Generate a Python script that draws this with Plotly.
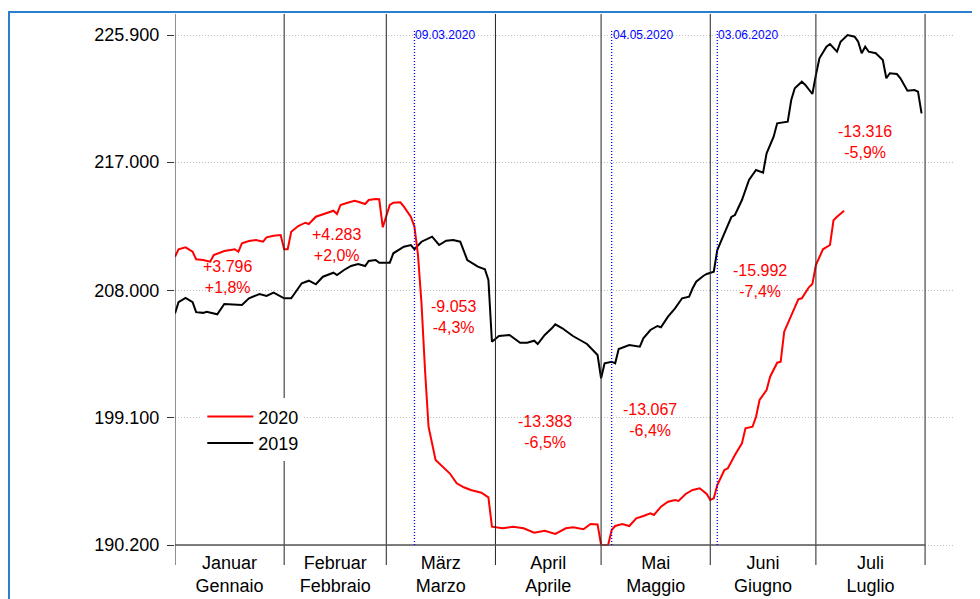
import pandas as pd
import plotly.graph_objects as go

# Month labels (German / Italian) and month boundaries on the 2020 calendar
month_de = ["Januar", "Februar", "März", "April", "Mai", "Juni", "Juli"]
month_it = ["Gennaio", "Febbraio", "Marzo", "Aprile", "Maggio", "Giugno", "Luglio"]
month_starts = ["2020-01-01", "2020-02-01", "2020-03-01", "2020-04-01",
                "2020-05-01", "2020-06-01", "2020-07-01", "2020-08-01"]

# y axis ticks
y_ticks = [190200, 199100, 208000, 217000, 225900]
y_ticktext = ["190.200", "199.100", "208.000", "217.000", "225.900"]

# Series 2019 (month-day, plotted on the same calendar as 2020)
days_2019 = ["01-01", "01-02", "01-04", "01-06", "01-07", "01-09", "01-10", "01-13", "01-15", "01-18",
             "01-20", "01-22", "01-25", "01-27", "01-29", "02-01", "02-03", "02-05", "02-06", "02-08",
             "02-10", "02-12", "02-15", "02-16", "02-18", "02-20", "02-22", "02-24", "02-25", "02-27",
             "02-28", "03-02", "03-03", "03-06", "03-08", "03-09", "03-11", "03-13", "03-14", "03-16",
             "03-18", "03-20", "03-22", "03-24", "03-27", "03-29", "03-30", "03-31", "04-02", "04-05",
             "04-08", "04-10", "04-12", "04-13", "04-15", "04-17", "04-18", "04-20", "04-23", "04-25",
             "04-27", "04-30", "05-01", "05-02", "05-04", "05-05", "05-06", "05-09", "05-12", "05-13",
             "05-15", "05-17", "05-18", "05-20", "05-22", "05-24", "05-26", "05-27", "05-28", "05-30",
             "05-31", "06-02", "06-03", "06-05", "06-07", "06-08", "06-10", "06-12", "06-14", "06-16",
             "06-17", "06-19", "06-20", "06-23", "06-24", "06-25", "06-27", "06-28", "06-30", "07-01",
             "07-02", "07-04", "07-05", "07-07", "07-08", "07-10", "07-12", "07-13", "07-14", "07-15",
             "07-16", "07-18", "07-20", "07-21", "07-22", "07-24", "07-25", "07-27", "07-29", "07-30",
             "07-31"]
values_2019 = [206400, 207200, 207500, 207200, 206500, 206450, 206530, 206350, 207070, 207000,
               207000, 207470, 207770, 207630, 207860, 207470, 207470, 208170, 208520, 208700,
               208450, 208980, 209260, 209100, 209450, 209730, 209870, 209730, 210080, 210150,
               209960, 209960, 210620, 211080, 211200, 210900, 211430, 211670, 211780, 211200,
               211500, 211550, 211430, 210150, 209680, 209500, 208750, 204430, 204830, 204900,
               204360, 204360, 204500, 204270, 204900, 205370, 205650, 205370, 204830, 204550,
               204270, 203500, 201870, 202920, 203030, 202920, 203920, 204200, 204080, 204670,
               205250, 205530, 205440, 206180, 206770, 207470, 207580, 208170, 208630, 209030,
               209170, 209330, 210850, 212020, 213160, 213300, 214350, 215750, 216450, 216260,
               217620, 218780, 219720, 219830, 221350, 222170, 222630, 222400, 221770, 223100,
               224270, 225080, 225270, 224730, 225430, 225900, 225780, 225430, 224620, 225080,
               224730, 224620, 224150, 222870, 223220, 223170, 222870, 222000, 222050, 221930,
               220420]

# Series 2020
days_2020 = ["01-01", "01-02", "01-04", "01-06", "01-07", "01-09", "01-11", "01-12", "01-15", "01-18",
             "01-19", "01-20", "01-22", "01-24", "01-26", "01-27", "01-29", "01-31", "02-01", "02-02",
             "02-03", "02-05", "02-07", "02-08", "02-10", "02-12", "02-14", "02-15", "02-16", "02-17",
             "02-19", "02-21", "02-22", "02-24", "02-25", "02-27", "02-28", "02-29", "03-02", "03-03",
             "03-05", "03-06", "03-08", "03-09", "03-10", "03-11", "03-12", "03-13", "03-15", "03-17",
             "03-19", "03-21", "03-23", "03-25", "03-28", "03-30", "03-31", "04-03", "04-06", "04-09",
             "04-12", "04-15", "04-18", "04-21", "04-23", "04-26", "04-28", "04-30", "05-01", "05-03",
             "05-04", "05-05", "05-07", "05-09", "05-11", "05-13", "05-15", "05-16", "05-18", "05-20",
             "05-22", "05-23", "05-25", "05-27", "05-29", "05-31", "06-01", "06-02", "06-03", "06-05",
             "06-06", "06-08", "06-10", "06-11", "06-13", "06-14", "06-15", "06-17", "06-18", "06-20",
             "06-21", "06-22", "06-24", "06-26", "06-27", "06-29", "06-30", "07-01", "07-03", "07-05",
             "07-06", "07-07", "07-09"]
values_2020 = [210380, 210900, 211040, 210730, 210200, 210150, 210030, 210500, 210780, 210900,
               210730, 211320, 211480, 211550, 211430, 211740, 211850, 211900, 210900, 210900,
               212130, 212530, 212760, 212670, 213180, 213370, 213530, 213600, 213370, 214000,
               214160, 214300, 214230, 214070, 214350, 214420, 214400, 212440, 214000, 214160,
               214190, 213880, 213160, 212480, 210500, 207120, 202450, 198480, 196150, 195680,
               195220, 194520, 194240, 194050, 193860, 193540, 191480, 191370, 191480, 191370,
               191060, 191200, 190970, 191370, 191440, 191300, 191670, 191640, 190200, 190200,
               191250, 191530, 191670, 191530, 192070, 192230, 192420, 192300, 192880, 193230,
               193350, 193280, 193770, 194050, 194170, 193770, 193350, 193470, 194400, 195450,
               195570, 196500, 197320, 198370, 198480, 199180, 200350, 201050, 201980, 202960,
               203030, 205130, 206300, 207400, 207470, 208240, 208470, 209800, 210900, 211200,
               212930, 213180, 213600]

# Monthly differences 2020 vs 2019
diff_abs = ["+3.796", "+4.283", "-9.053", "-13.383", "-13.067", "-15.992", "-13.316"]
diff_pct = ["+1,8%", "+2,0%", "-4,3%", "-6,5%", "-6,4%", "-7,4%", "-5,9%"]
diff_x = ["2020-01-16", "2020-02-16", "2020-03-20", "2020-04-15", "2020-05-15", "2020-06-15", "2020-07-15"]
diff_y = [208960, 211200, 206160, 198110, 198950, 208680, 218410]

# Event markers
event_dates = ["2020-03-09", "2020-05-04", "2020-06-03"]
event_labels = ["09.03.2020", "04.05.2020", "03.06.2020"]

FONT = "Liberation Sans, Arial, sans-serif"

starts = pd.to_datetime(month_starts)
mids = [starts[i] + (starts[i + 1] - starts[i]) / 2 for i in range(len(month_de))]

fig = go.Figure()
fig.add_trace(go.Scatter(x=["2020-" + d for d in days_2019], y=values_2019, name="2019",
                         mode="lines", line=dict(color="black", width=2)))
fig.add_trace(go.Scatter(x=["2020-" + d for d in days_2020], y=values_2020, name="2020",
                         mode="lines", line=dict(color="#ff0000", width=2)))

shapes = []
# month separators, running a bit past the plot area like tick marks
for s in month_starts:
    shapes.append(dict(type="line", xref="x", yref="paper", x0=s, x1=s, y0=-0.033, y1=1.035,
                       line=dict(color="#222222", width=1)))
# bottom axis line, only from first to last month boundary
shapes.append(dict(type="line", xref="x", yref="y", x0=month_starts[0], x1=month_starts[-1],
                   y0=y_ticks[0], y1=y_ticks[0], line=dict(color="#555555", width=1.5)))
# event lines
for d in event_dates:
    shapes.append(dict(type="line", xref="x", yref="paper", x0=d, x1=d, y0=0.006, y1=1.002,
                       line=dict(color="blue", width=1.3, dash="1px,2px")))
# outer blue frame
shapes.append(dict(type="rect", xref="paper", yref="paper", x0=-0.2128, x1=1.07, y0=-0.16, y1=1.0388,
                   line=dict(color="#2a7fcf", width=2), fillcolor="rgba(0,0,0,0)", layer="below"))

annotations = []
for xa, ya, a, p in zip(diff_x, diff_y, diff_abs, diff_pct):
    annotations.append(dict(x=xa, y=ya, xref="x", yref="y", text=a + "<br>" + p, showarrow=False,
                            font=dict(color="#ff0000", size=16, family=FONT), align="center"))
for d, t in zip(event_dates, event_labels):
    annotations.append(dict(x=d, y=y_ticks[-1], xref="x", yref="y", text=t, showarrow=False,
                            xanchor="left", yanchor="middle", xshift=-1,
                            font=dict(color="blue", size=12, family=FONT)))

# the page body adds an 8px offset, so margins are set 8px smaller on the top/left
fig.update_layout(
    width=980, height=599,
    margin=dict(l=167, r=33, t=24, b=59),
    plot_bgcolor="white", paper_bgcolor="white",
    font=dict(family=FONT, color="black", size=18),
    shapes=shapes, annotations=annotations,
    legend=dict(x=0.035, y=0.29, xanchor="left", yanchor="top", traceorder="reversed",
                itemwidth=46, bgcolor="white", font=dict(size=18, family=FONT)),
    xaxis=dict(range=["2020-01-01", "2020-08-09 12:00"], tickvals=mids,
               ticktext=[a + "<br>" + b for a, b in zip(month_de, month_it)],
               ticks="", automargin=False, ticklabelstandoff=2,
               showgrid=False, zeroline=False, showline=False,
               tickfont=dict(size=18, family=FONT)),
    yaxis=dict(range=[189990, 226110], tickvals=y_ticks, ticktext=y_ticktext,
               ticks="outside", ticklen=7, tickcolor="#333333", ticklabelstandoff=4,
               automargin=False,
               showgrid=True, gridcolor="#bdbdbd", griddash="1px,2px", gridwidth=1,
               zeroline=False, showline=False, tickfont=dict(size=18, family=FONT)),
)

fig.write_html("out.html")
